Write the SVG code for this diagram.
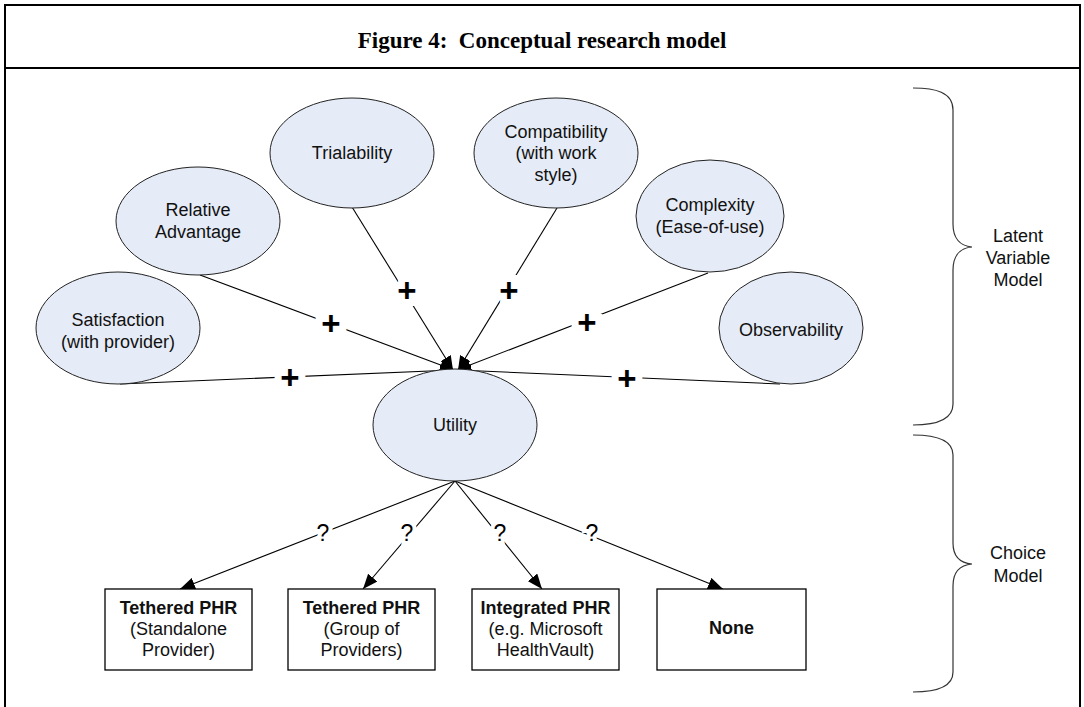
<svg xmlns="http://www.w3.org/2000/svg" width="1084" height="707" viewBox="0 0 1084 707">
<defs>
<marker id="ah" markerUnits="userSpaceOnUse" markerWidth="15" markerHeight="12" refX="14" refY="6" orient="auto"><path d="M0,0 L14,6 L0,12 z" fill="#000"/></marker>
<marker id="ab" markerUnits="userSpaceOnUse" markerWidth="16" markerHeight="12" refX="15" refY="6" orient="auto"><path d="M0,0 L15,6 L0,12 z" fill="#000"/></marker>
</defs>
<style>
.el{fill:#e6ecf7;stroke:#222;stroke-width:1}
.t{font-family:"Liberation Sans",Arial,sans-serif;font-size:18px;fill:#111;text-anchor:middle}
.b{font-weight:bold}
.bx{fill:#fff;stroke:#000;stroke-width:1.3}
.ln{stroke:#000;stroke-width:1.1;fill:none}
.plus{font-family:"Liberation Sans",Arial,sans-serif;font-size:33px;font-weight:bold;fill:#000;text-anchor:middle;stroke:#fff;stroke-width:14;paint-order:stroke}
.q{font-family:"Liberation Sans",Arial,sans-serif;font-size:23px;fill:#000;text-anchor:middle;stroke:#fff;stroke-width:8;paint-order:stroke}
.br{stroke:#333;stroke-width:1.2;fill:none}
</style>
<rect width="1084" height="707" fill="#fff"/>
<g id="frame">
<path d="M5,707 V5 H1080 V707" fill="none" stroke="#000" stroke-width="2"/>
<line x1="5" y1="68" x2="1080" y2="68" stroke="#000" stroke-width="2"/>
<text x="542" y="48" style="font-family:'Liberation Serif','Times New Roman',serif;font-size:23px;font-weight:bold;text-anchor:middle">Figure 4:&#160; Conceptual research model</text>
</g>
<g id="connectors">
<line class="ln" x1="120" y1="384" x2="454" y2="370" marker-end="url(#ah)"/>
<line class="ln" x1="200" y1="275" x2="454" y2="370" marker-end="url(#ah)"/>
<line class="ln" x1="352" y1="207" x2="453" y2="370" marker-end="url(#ah)"/>
<line class="ln" x1="557" y1="208" x2="458" y2="370" marker-end="url(#ah)"/>
<line class="ln" x1="708" y1="273" x2="457" y2="370" marker-end="url(#ah)"/>
<line class="ln" x1="780" y1="384" x2="457" y2="370" marker-end="url(#ah)"/>
<line class="ln" x1="455" y1="481" x2="180" y2="589" marker-end="url(#ab)"/>
<line class="ln" x1="455" y1="481" x2="363" y2="589" marker-end="url(#ab)"/>
<line class="ln" x1="455" y1="481" x2="542" y2="589" marker-end="url(#ab)"/>
<line class="ln" x1="455" y1="481" x2="723" y2="589" marker-end="url(#ab)"/>
<text class="plus" x="290" y="389">+</text>
<text class="plus" x="331" y="335">+</text>
<text class="plus" x="407" y="302">+</text>
<text class="plus" x="509" y="302">+</text>
<text class="plus" x="587" y="334">+</text>
<text class="plus" x="627" y="390">+</text>
<text class="q" x="323" y="541">?</text>
<text class="q" x="407" y="541">?</text>
<text class="q" x="500" y="541">?</text>
<text class="q" x="592" y="541">?</text>
</g>
<g id="satisfaction"><ellipse class="el" cx="118" cy="328" rx="82" ry="56"/><text class="t" x="118" y="326">Satisfaction</text><text class="t" x="118" y="348">(with provider)</text></g>
<g id="relative-advantage"><ellipse class="el" cx="198" cy="221" rx="82" ry="54"/><text class="t" x="198" y="216">Relative</text><text class="t" x="198" y="238">Advantage</text></g>
<g id="trialability"><ellipse class="el" cx="352" cy="153" rx="82" ry="55"/><text class="t" x="352" y="159">Trialability</text></g>
<g id="compatibility"><ellipse class="el" cx="556" cy="153" rx="82" ry="55"/><text class="t" x="556" y="138">Compatibility</text><text class="t" x="556" y="159">(with work</text><text class="t" x="556" y="181">style)</text></g>
<g id="complexity"><ellipse class="el" cx="710" cy="216" rx="74" ry="56"/><text class="t" x="710" y="211">Complexity</text><text class="t" x="710" y="233">(Ease-of-use)</text></g>
<g id="observability"><ellipse class="el" cx="791" cy="328" rx="72" ry="56"/><text class="t" x="791" y="336">Observability</text></g>
<g id="utility"><ellipse class="el" cx="455" cy="425" rx="82" ry="56"/><text class="t" x="455" y="431">Utility</text></g>
<g id="tethered-standalone"><rect class="bx" x="105" y="589" width="147" height="81"/><text class="t b" x="178.5" y="614">Tethered PHR</text><text class="t" x="178.5" y="635">(Standalone</text><text class="t" x="178.5" y="656">Provider)</text></g>
<g id="tethered-group"><rect class="bx" x="288" y="589" width="147" height="81"/><text class="t b" x="361.5" y="614">Tethered PHR</text><text class="t" x="361.5" y="635">(Group of</text><text class="t" x="361.5" y="656">Providers)</text></g>
<g id="integrated"><rect class="bx" x="472" y="589" width="147" height="81"/><text class="t b" x="545.5" y="614">Integrated PHR</text><text class="t" x="545.5" y="635">(e.g. Microsoft</text><text class="t" x="545.5" y="656">HealthVault)</text></g>
<g id="none"><rect class="bx" x="657" y="589" width="149" height="81"/><text class="t b" x="731.5" y="634">None</text></g>
<g id="latent-bracket"><path class="br" d="M913,88 C935,88 953,92 953,110 L953,224 C953,238 960,246 972,247 C960,248 953,256 953,270 L953,404 C953,420 935,425 913,425"/><text class="t" x="1018" y="242">Latent</text><text class="t" x="1018" y="264">Variable</text><text class="t" x="1018" y="286">Model</text></g>
<g id="choice-bracket"><path class="br" d="M913,435 C935,435 953,440 953,455 L953,543 C953,556 960,563 972,564 C960,565 953,572 953,586 L953,672 C953,688 935,692 913,692"/><text class="t" x="1018" y="559">Choice</text><text class="t" x="1018" y="582">Model</text></g>
</svg>
